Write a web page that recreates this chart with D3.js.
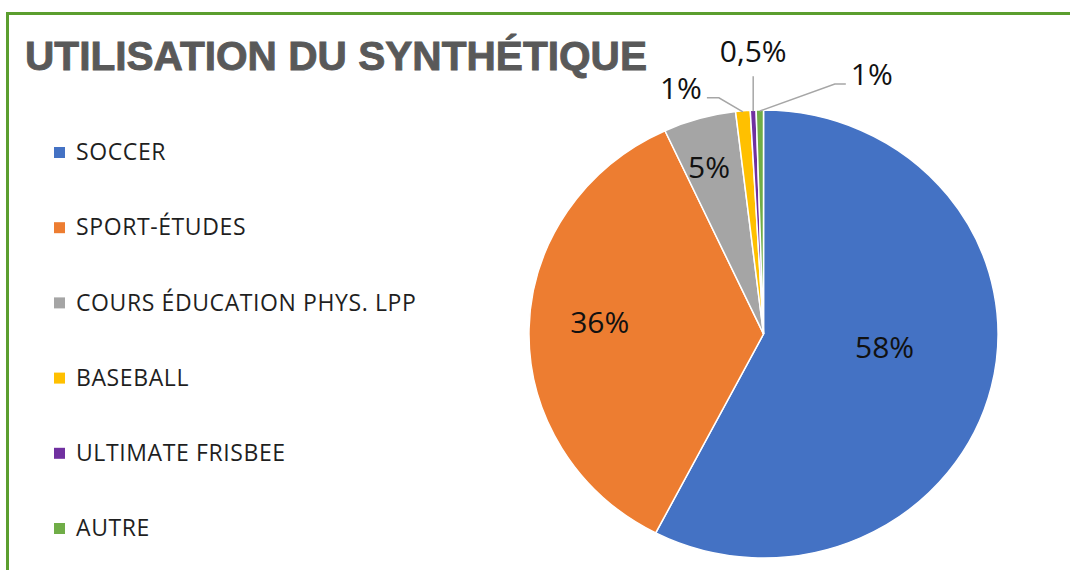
<!doctype html>
<html lang="fr">
<head>
<meta charset="utf-8">
<title>Utilisation du synthétique</title>
<script src="https://d3js.org/d3.v7.min.js"></script>
<style>
  body { margin: 0; background: #fff; }
  svg { display: block; }
  .legend text { font: 23px "Open Sans", sans-serif; fill: #1f1f1f; letter-spacing: 0.6px; }
  .pct { font: 30px "Open Sans", sans-serif; fill: #111; }
</style>
</head>
<body>
<svg width="1070" height="570"></svg>
<script>
  // data
  var categories = ["SOCCER", "SPORT-ÉTUDES", "COURS ÉDUCATION PHYS. LPP", "BASEBALL", "ULTIMATE FRISBEE", "AUTRE"];
  var values = [57.6, 35.5, 5.0, 1.0, 0.4, 0.5];
  var labels = ["58%", "36%", "5%", "1%", "0,5%", "1%"];
  var colors = ["#4472C4", "#ED7D31", "#A5A5A5", "#FFC000", "#7030A0", "#70AD47"];

  var svg = d3.select("svg");

  // green frame (left + top)
  svg.append("path")
    .attr("d", "M7.5,570 V13.5 H1070")
    .attr("fill", "none")
    .attr("stroke", "#5B9E2F")
    .attr("stroke-width", 3);

  svg.append("text")
    .attr("x", 25).attr("y", 70)
    .attr("textLength", 622).attr("lengthAdjust", "spacingAndGlyphs")
    .style("font", "bold 41px 'Liberation Sans', Arial, sans-serif")
    .style("fill", "#595959")
    .style("stroke", "#595959").style("stroke-width", 0.9)
    .text("UTILISATION DU SYNTHÉTIQUE");

  // legend
  var legY = d3.scalePoint().domain(categories).range([152, 528]);
  var leg = svg.append("g").attr("class", "legend")
    .selectAll("g").data(categories).enter().append("g")
    .attr("transform", function (d) { return "translate(0," + legY(d) + ")"; });
  leg.append("rect")
    .attr("x", 54).attr("y", -5).attr("width", 11).attr("height", 11)
    .attr("fill", function (d, i) { return colors[i]; });
  leg.append("text")
    .attr("x", 76).attr("y", 0).attr("dy", "0.36em")
    .text(function (d) { return d; });

  // pie (slightly wider than tall, like the original)
  var cx = 763.5, cy = 334, r = 224, sx = 1.047;
  var pie = d3.pie().sort(null).value(function (d) { return d; });
  var arcs = pie(values);
  var arc = d3.arc().innerRadius(0).outerRadius(r);

  svg.append("g")
    .attr("transform", "translate(" + cx + "," + cy + ") scale(" + sx + ",1)")
    .selectAll("path").data(arcs).enter().append("path")
    .attr("d", arc)
    .attr("fill", function (d, i) { return colors[i]; })
    .attr("stroke", "#fff")
    .attr("stroke-width", 1.5)
    .attr("vector-effect", "non-scaling-stroke");

  function pt(a, k) {
    return [cx + Math.sin(a) * r * k * sx, cy - Math.cos(a) * r * k];
  }
  function mid(d) { return (d.startAngle + d.endAngle) / 2; }
  var deg = Math.PI / 180;

  // inside labels: [radius factor, angle shift in degrees]
  var inside = [[0.52, -7], [0.70, 3], [0.78, -1.5]];
  inside.forEach(function (c, i) {
    var p = pt(mid(arcs[i]) + c[1] * deg, c[0]);
    svg.append("text").attr("class", "pct")
      .attr("x", p[0]).attr("y", p[1]).attr("dy", "0.36em")
      .attr("text-anchor", "middle")
      .text(labels[i]);
  });

  // outside labels with leader lines: [elbow dx, elbow dy, end dx, anchor]
  var callouts = [[-24, -14, -12, "end"], [0, -35, 0, "middle"], [75, -27, 11, "start"]];
  callouts.forEach(function (c, j) {
    var i = j + 3;
    var p0 = pt(mid(arcs[i]), 1.0);
    p0[1] += 1;
    var p1 = [p0[0] + c[0], p0[1] + c[1]];
    var p2 = [p1[0] + c[2], p1[1]];
    svg.append("path")
      .attr("d", d3.line()([p0, p1, p2]))
      .attr("fill", "none")
      .attr("stroke", "#A6A6A6")
      .attr("stroke-width", 1.5);
    var tx = c[3] === "end" ? p2[0] - 5 : c[3] === "start" ? p2[0] + 5 : p2[0];
    var ty = c[3] === "middle" ? p2[1] - 14 : p2[1] + 1;
    svg.append("text").attr("class", "pct")
      .attr("x", tx).attr("y", ty)
      .attr("text-anchor", c[3])
      .text(labels[i]);
  });
</script>
</body>
</html>
